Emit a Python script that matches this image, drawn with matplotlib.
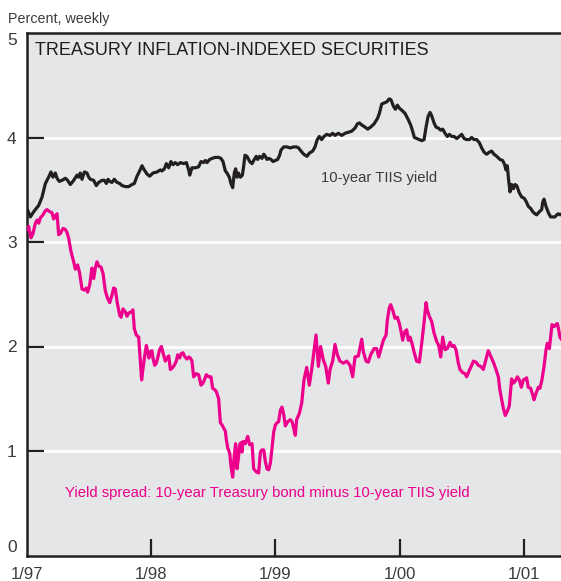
import matplotlib
matplotlib.use("Agg")
import matplotlib.pyplot as plt

# ---------------- data (decimal year, percent) ----------------
tiis_yield = [
    (1997.000, 3.32), (1997.027, 3.24), (1997.054, 3.29), (1997.094, 3.35), (1997.121, 3.43),
    (1997.148, 3.56), (1997.174, 3.62), (1997.193, 3.67), (1997.209, 3.62), (1997.228, 3.66),
    (1997.242, 3.61), (1997.260, 3.58), (1997.282, 3.59), (1997.309, 3.61), (1997.327, 3.59),
    (1997.349, 3.55), (1997.376, 3.59), (1997.403, 3.64), (1997.416, 3.62), (1997.429, 3.66),
    (1997.443, 3.60), (1997.462, 3.67), (1997.483, 3.66), (1997.497, 3.62), (1997.510, 3.60),
    (1997.537, 3.59), (1997.558, 3.54), (1997.577, 3.57), (1997.604, 3.59), (1997.623, 3.59),
    (1997.639, 3.56), (1997.652, 3.60), (1997.666, 3.58), (1997.684, 3.57), (1997.703, 3.60),
    (1997.725, 3.57), (1997.746, 3.56), (1997.765, 3.54), (1997.792, 3.53), (1997.819, 3.53),
    (1997.845, 3.55), (1997.864, 3.56), (1997.886, 3.63), (1997.907, 3.68), (1997.926, 3.73),
    (1997.939, 3.70), (1997.966, 3.65), (1997.988, 3.63), (1998.014, 3.66), (1998.047, 3.67),
    (1998.074, 3.69), (1998.087, 3.68), (1998.106, 3.70), (1998.122, 3.75), (1998.141, 3.71),
    (1998.159, 3.77), (1998.176, 3.74), (1998.194, 3.76), (1998.213, 3.74), (1998.235, 3.76),
    (1998.261, 3.75), (1998.283, 3.76), (1998.302, 3.69), (1998.310, 3.64), (1998.328, 3.71),
    (1998.355, 3.71), (1998.382, 3.72), (1998.401, 3.77), (1998.422, 3.76), (1998.436, 3.78),
    (1998.449, 3.76), (1998.471, 3.79), (1998.490, 3.80), (1998.516, 3.81), (1998.543, 3.81),
    (1998.562, 3.80), (1998.578, 3.77), (1998.597, 3.68), (1998.610, 3.66), (1998.629, 3.62),
    (1998.642, 3.56), (1998.656, 3.52), (1998.669, 3.66), (1998.680, 3.70), (1998.691, 3.62),
    (1998.702, 3.66), (1998.718, 3.62), (1998.734, 3.64), (1998.745, 3.73), (1998.755, 3.83),
    (1998.771, 3.82), (1998.793, 3.77), (1998.812, 3.75), (1998.825, 3.78), (1998.846, 3.82),
    (1998.857, 3.79), (1998.873, 3.82), (1998.892, 3.80), (1998.906, 3.84), (1998.919, 3.82),
    (1998.932, 3.79), (1998.946, 3.80), (1998.965, 3.79), (1998.981, 3.77), (1999.000, 3.78),
    (1999.018, 3.79), (1999.034, 3.83), (1999.045, 3.88), (1999.067, 3.91), (1999.093, 3.91),
    (1999.120, 3.90), (1999.147, 3.91), (1999.169, 3.91), (1999.187, 3.90), (1999.206, 3.87),
    (1999.228, 3.84), (1999.254, 3.82), (1999.273, 3.85), (1999.300, 3.87), (1999.319, 3.91),
    (1999.337, 3.98), (1999.354, 4.01), (1999.372, 3.98), (1999.391, 4.01), (1999.413, 4.03),
    (1999.440, 4.02), (1999.461, 4.04), (1999.480, 4.02), (1999.507, 4.04), (1999.534, 4.02),
    (1999.560, 4.04), (1999.587, 4.05), (1999.614, 4.06), (1999.641, 4.09), (1999.660, 4.13),
    (1999.676, 4.14), (1999.695, 4.12), (1999.721, 4.10), (1999.743, 4.08), (1999.767, 4.10),
    (1999.794, 4.13), (1999.821, 4.18), (1999.837, 4.23), (1999.856, 4.32), (1999.874, 4.33),
    (1999.896, 4.34), (1999.917, 4.37), (1999.931, 4.36), (1999.950, 4.30), (1999.966, 4.27),
    (1999.982, 4.31), (1999.998, 4.28), (2000.019, 4.26), (2000.044, 4.23), (2000.070, 4.17),
    (2000.089, 4.12), (2000.105, 4.06), (2000.119, 4.00), (2000.138, 3.99), (2000.159, 3.98),
    (2000.180, 3.97), (2000.197, 3.98), (2000.213, 4.10), (2000.229, 4.20), (2000.245, 4.24),
    (2000.258, 4.21), (2000.277, 4.14), (2000.293, 4.10), (2000.312, 4.09), (2000.331, 4.07),
    (2000.347, 4.08), (2000.366, 4.04), (2000.384, 4.01), (2000.401, 4.03), (2000.419, 4.01),
    (2000.438, 4.01), (2000.460, 3.99), (2000.481, 4.01), (2000.500, 4.03), (2000.519, 3.99),
    (2000.540, 3.98), (2000.562, 3.98), (2000.580, 4.00), (2000.599, 3.98), (2000.621, 3.98),
    (2000.642, 3.95), (2000.661, 3.90), (2000.680, 3.86), (2000.701, 3.84), (2000.723, 3.86),
    (2000.741, 3.87), (2000.760, 3.84), (2000.782, 3.82), (2000.808, 3.79), (2000.830, 3.78),
    (2000.846, 3.74), (2000.857, 3.69), (2000.867, 3.73), (2000.878, 3.59), (2000.889, 3.48),
    (2000.902, 3.55), (2000.916, 3.51), (2000.929, 3.55), (2000.943, 3.54), (2000.964, 3.47),
    (2000.983, 3.43), (2001.002, 3.42), (2001.018, 3.39), (2001.037, 3.34), (2001.056, 3.32),
    (2001.072, 3.29), (2001.090, 3.27), (2001.104, 3.26), (2001.125, 3.29), (2001.144, 3.31),
    (2001.152, 3.38), (2001.163, 3.41), (2001.179, 3.34), (2001.198, 3.28), (2001.216, 3.24),
    (2001.238, 3.24), (2001.251, 3.24), (2001.265, 3.26), (2001.278, 3.27), (2001.292, 3.26),
    (2001.305, 3.27),
]

yield_spread = [
    (1997.000, 3.12), (1997.013, 3.15), (1997.032, 3.04), (1997.048, 3.08), (1997.067, 3.18),
    (1997.081, 3.21), (1997.094, 3.18), (1997.107, 3.23), (1997.129, 3.26), (1997.148, 3.30),
    (1997.161, 3.31), (1997.183, 3.29), (1997.201, 3.28), (1997.215, 3.22), (1997.228, 3.25),
    (1997.242, 3.27), (1997.255, 3.07), (1997.268, 3.08), (1997.290, 3.13), (1997.309, 3.12),
    (1997.322, 3.09), (1997.335, 3.04), (1997.354, 2.91), (1997.376, 2.81), (1997.389, 2.74),
    (1997.408, 2.78), (1997.424, 2.70), (1997.443, 2.55), (1997.462, 2.54), (1997.478, 2.56),
    (1997.488, 2.52), (1997.505, 2.59), (1997.523, 2.75), (1997.537, 2.65), (1997.550, 2.75),
    (1997.564, 2.81), (1997.577, 2.77), (1997.596, 2.76), (1997.612, 2.70), (1997.631, 2.53),
    (1997.649, 2.46), (1997.666, 2.42), (1997.684, 2.49), (1997.698, 2.56), (1997.711, 2.55),
    (1997.725, 2.43), (1997.746, 2.30), (1997.757, 2.28), (1997.773, 2.36), (1997.792, 2.33),
    (1997.805, 2.29), (1997.819, 2.32), (1997.837, 2.33), (1997.853, 2.35), (1997.864, 2.17),
    (1997.880, 2.11), (1997.899, 2.09), (1997.912, 1.86), (1997.923, 1.68), (1997.934, 1.79),
    (1997.945, 1.89), (1997.961, 2.01), (1997.972, 1.95), (1997.982, 1.89), (1997.993, 1.95),
    (1998.006, 1.96), (1998.014, 1.89), (1998.028, 1.82), (1998.041, 1.84), (1998.052, 1.89),
    (1998.068, 1.97), (1998.082, 2.00), (1998.095, 1.94), (1998.114, 1.86), (1998.127, 1.89),
    (1998.141, 1.91), (1998.154, 1.78), (1998.167, 1.79), (1998.186, 1.82), (1998.202, 1.86),
    (1998.213, 1.92), (1998.229, 1.89), (1998.240, 1.93), (1998.256, 1.94), (1998.272, 1.90),
    (1998.288, 1.88), (1998.302, 1.90), (1998.315, 1.89), (1998.328, 1.86), (1998.342, 1.71),
    (1998.363, 1.74), (1998.382, 1.73), (1998.401, 1.63), (1998.417, 1.65), (1998.428, 1.68),
    (1998.444, 1.73), (1998.463, 1.71), (1998.481, 1.71), (1998.495, 1.60), (1998.508, 1.59),
    (1998.524, 1.57), (1998.543, 1.50), (1998.557, 1.27), (1998.570, 1.25), (1998.583, 1.22),
    (1998.597, 1.19), (1998.605, 1.11), (1998.616, 1.03), (1998.632, 0.98), (1998.643, 0.85),
    (1998.656, 0.75), (1998.669, 0.96), (1998.680, 1.07), (1998.691, 0.83), (1998.702, 0.93),
    (1998.712, 1.06), (1998.723, 1.08), (1998.731, 0.99), (1998.739, 1.09), (1998.750, 1.09),
    (1998.758, 1.07), (1998.766, 1.10), (1998.777, 1.14), (1998.793, 1.06), (1998.812, 1.07),
    (1998.825, 0.83), (1998.846, 0.80), (1998.865, 0.79), (1998.879, 0.99), (1998.892, 1.01),
    (1998.906, 1.01), (1998.919, 0.90), (1998.932, 0.83), (1998.946, 0.82), (1998.959, 0.88),
    (1998.973, 1.03), (1998.986, 1.18), (1999.000, 1.25), (1999.013, 1.27), (1999.026, 1.28),
    (1999.040, 1.39), (1999.053, 1.42), (1999.067, 1.35), (1999.080, 1.24), (1999.099, 1.28),
    (1999.120, 1.30), (1999.134, 1.28), (1999.147, 1.22), (1999.160, 1.15), (1999.171, 1.30),
    (1999.193, 1.36), (1999.212, 1.46), (1999.230, 1.68), (1999.252, 1.80), (1999.273, 1.63),
    (1999.292, 1.78), (1999.305, 1.90), (1999.327, 2.11), (1999.346, 1.81), (1999.364, 2.00),
    (1999.386, 1.87), (1999.405, 1.81), (1999.426, 1.65), (1999.440, 1.78), (1999.461, 1.86),
    (1999.480, 2.02), (1999.499, 1.92), (1999.520, 1.86), (1999.547, 1.84), (1999.574, 1.86),
    (1999.601, 1.82), (1999.622, 1.71), (1999.641, 1.90), (1999.668, 1.91), (1999.695, 2.07),
    (1999.708, 1.95), (1999.730, 1.86), (1999.748, 1.85), (1999.767, 1.92), (1999.794, 1.98),
    (1999.815, 1.98), (1999.832, 1.90), (1999.848, 1.97), (1999.869, 2.06), (1999.891, 2.11),
    (1999.901, 2.25), (1999.917, 2.37), (1999.928, 2.40), (1999.944, 2.35), (1999.963, 2.27),
    (1999.982, 2.28), (1999.998, 2.22), (2000.009, 2.16), (2000.025, 2.06), (2000.041, 2.14),
    (2000.057, 2.16), (2000.070, 2.06), (2000.084, 2.09), (2000.100, 2.03), (2000.116, 1.95),
    (2000.137, 1.86), (2000.159, 1.85), (2000.178, 2.03), (2000.196, 2.22), (2000.213, 2.42),
    (2000.223, 2.35), (2000.239, 2.29), (2000.258, 2.24), (2000.277, 2.13), (2000.298, 2.05),
    (2000.315, 2.01), (2000.331, 1.90), (2000.347, 2.09), (2000.366, 1.97), (2000.384, 1.98),
    (2000.406, 2.04), (2000.422, 2.00), (2000.438, 2.01), (2000.454, 1.97), (2000.473, 1.84),
    (2000.486, 1.78), (2000.508, 1.75), (2000.527, 1.74), (2000.540, 1.71), (2000.561, 1.77),
    (2000.580, 1.82), (2000.594, 1.86), (2000.615, 1.85), (2000.634, 1.82), (2000.653, 1.81),
    (2000.674, 1.78), (2000.696, 1.88), (2000.714, 1.96), (2000.733, 1.91), (2000.755, 1.85),
    (2000.776, 1.78), (2000.795, 1.71), (2000.808, 1.58), (2000.822, 1.49), (2000.835, 1.41),
    (2000.851, 1.34), (2000.867, 1.38), (2000.883, 1.43), (2000.902, 1.69), (2000.916, 1.65),
    (2000.932, 1.67), (2000.948, 1.71), (2000.964, 1.68), (2000.980, 1.61), (2000.996, 1.68),
    (2001.012, 1.69), (2001.023, 1.70), (2001.036, 1.61), (2001.055, 1.60), (2001.071, 1.54),
    (2001.082, 1.49), (2001.098, 1.55), (2001.117, 1.61), (2001.130, 1.60), (2001.146, 1.68),
    (2001.163, 1.81), (2001.179, 1.97), (2001.189, 2.03), (2001.206, 1.98), (2001.216, 2.09),
    (2001.227, 2.21), (2001.243, 2.19), (2001.259, 2.21), (2001.270, 2.22), (2001.281, 2.16),
    (2001.291, 2.09), (2001.308, 2.06),
]

y_ticks = [0, 1, 2, 3, 4, 5]
x_ticks = [1997, 1998, 1999, 2000, 2001]
x_tick_labels = ["1/97", "1/98", "1/99", "1/00", "1/01"]

# ---------------- style ----------------
plt.rcParams["font.family"] = ["Liberation Sans", "DejaVu Sans"]

BG = "#e5e6e8"
DARK = "#231f20"
PINK = "#ec008c"
TXT = "#3b3b3b"

W, H = 561, 581
fig = plt.figure(figsize=(W / 100, H / 100), dpi=100)
fig.patch.set_facecolor("white")

left_px, right_px, top_px, bottom_px = 27, 561, 33, 555.5
ax_w, ax_h = right_px - left_px, bottom_px - top_px
ax = fig.add_axes([left_px / W, (H - bottom_px) / H, ax_w / W, ax_h / H])
ax.set_facecolor(BG)
ax.set_xlim(1997.0, 1997.0 + ax_w / 124.2)
ax.set_ylim(0, 5)

for v in [1, 2, 3, 4]:
    ax.axhline(v, color="white", lw=2.0, zorder=1)

tx, tv = zip(*tiis_yield)
sx, sv = zip(*yield_spread)
ax.plot(tx, tv, color=DARK, lw=2.3, zorder=3, solid_joinstyle="round")
ax.plot(sx, sv, color=PINK, lw=2.3, zorder=3, solid_joinstyle="round")

for s in ["left", "top", "bottom"]:
    ax.spines[s].set_color(DARK)
    ax.spines[s].set_linewidth(1.8)
ax.spines["right"].set_visible(False)

ax.set_yticks(y_ticks)
ax.set_yticklabels([str(v) for v in y_ticks])
ax.set_xticks(x_ticks)
ax.set_xticklabels(x_tick_labels)
ax.tick_params(axis="y", direction="in", length=12.5, width=1.6, color=DARK,
               pad=7.5, labelsize=12.5, labelcolor=TXT)
ax.tick_params(axis="x", direction="in", length=12.5, width=1.6, color=DARK,
               pad=8, labelsize=12, labelcolor=TXT)
yl = ax.get_yticklabels()
yl[0].set_va("bottom")
yl[-1].set_va("top")
# hide tick marks at the borders
ax.yaxis.get_major_ticks()[0].tick1line.set_visible(False)
ax.yaxis.get_major_ticks()[-1].tick1line.set_visible(False)
ax.xaxis.get_major_ticks()[0].tick1line.set_visible(False)

fig.text(8 / W, 1 - 23 / H, "Percent, weekly", fontsize=10.3, color=TXT,
         va="baseline", ha="left")
ax.text((35 - left_px) / ax_w, 1 - (55 - top_px) / ax_h,
        "TREASURY INFLATION-INDEXED SECURITIES", transform=ax.transAxes,
        fontsize=13, color="#1e1e1e", va="baseline", ha="left")
ax.text(1999.368, 3.61, "10-year TIIS yield", fontsize=10.6, color=TXT,
        va="center", ha="left")
ax.text(1997.306, 0.60, "Yield spread: 10-year Treasury bond minus 10-year TIIS yield",
        fontsize=10.7, color=PINK, va="center", ha="left")

fig.savefig("out.png", dpi=100)
